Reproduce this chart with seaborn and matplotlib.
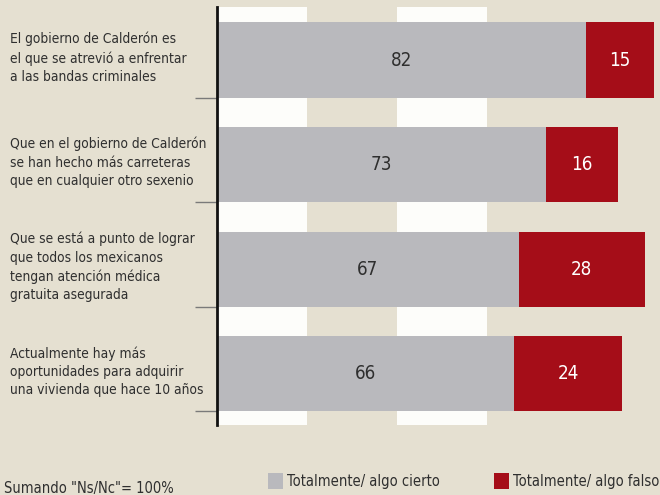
import numpy as np
import pandas as pd
import matplotlib
matplotlib.use('Agg')
import matplotlib.pyplot as plt
from matplotlib.patches import Patch
import seaborn as sns

statements = [
    'El gobierno de Calderón es\nel que se atrevió a enfrentar\na las bandas criminales',
    'Que en el gobierno de Calderón\nse han hecho más carreteras\nque en cualquier otro sexenio',
    'Que se está a punto de lograr\nque todos los mexicanos\ntengan atención médica\ngratuita asegurada',
    'Actualmente hay más\noportunidades para adquirir\nuna vivienda que hace 10 años',
]
cierto = [82, 73, 67, 66]
falso = [15, 16, 28, 24]
legend_labels = ['Totalmente/ algo cierto', 'Totalmente/ algo falso']
note = 'Sumando "Ns/Nc"= 100%'

BG = '#e5e0d1'
GRAY = '#b9b9bd'
RED = '#a50d18'
TXT = '#2f2f2f'

sns.set_style('white')
plt.rcParams['font.family'] = ['DejaVu Sans']
plt.rcParams['font.stretch'] = 'condensed'

df = pd.DataFrame({'statement': statements, 'cierto': cierto, 'falso': falso})
df['total'] = df['cierto'] + df['falso']

fig = plt.figure(figsize=(6.6, 4.95), dpi=100, facecolor=BG)
ax = fig.add_axes([217 / 660, 1 - 425 / 495, 443 / 660, 418 / 495])
ax.set_facecolor(BG)

# alternating white bands
for lo in (0, 40):
    ax.axvspan(lo, lo + 20, color='#fdfdfa', zorder=0, lw=0)

# stacked: red total underneath, gray on top
sns.barplot(data=df, x='total', y='statement', color=RED, width=0.72,
            saturation=1, linewidth=0, ax=ax, zorder=2)
sns.barplot(data=df, x='cierto', y='statement', color=GRAY, width=0.72,
            saturation=1, linewidth=0, ax=ax, zorder=3)

for i, (c, f) in enumerate(zip(cierto, falso)):
    ax.text(c / 2, i, str(c), ha='center', va='center', fontsize=13.5,
            color=TXT, zorder=4)
    ax.text(c + f / 2, i, str(f), ha='center', va='center', fontsize=13.5,
            color='white', zorder=4)

ax.set_xlim(0, 443 / 4.5)
ax.set_ylim(3.49, -0.507)
ax.set_xlabel('')
ax.set_ylabel('')
ax.set_xticks([])
ax.set_yticks([])
ax.set_yticks([i + 0.36 for i in range(len(statements))], minor=True)
ax.tick_params(axis='y', which='minor', length=16, width=1, color='#7a7a7a',
               direction='out', left=True)
for s in ('top', 'right', 'bottom'):
    ax.spines[s].set_visible(False)
ax.spines['left'].set_color('#111111')
ax.spines['left'].set_linewidth(2)
ax.spines['left'].set_zorder(5)

trans = matplotlib.transforms.blended_transform_factory(fig.transFigure, ax.transData)
for i, s in enumerate(statements):
    ax.text(10 / 660, i - 0.02, s, transform=trans, ha='left', va='center',
            fontsize=9.9, color=TXT, linespacing=1.4)

fig.text(4 / 660, 1 - 489 / 495, note, ha='left', va='center',
         fontsize=10.5, color=TXT)

handles = [Patch(facecolor=GRAY, edgecolor='none'), Patch(facecolor=RED, edgecolor='none')]
fig.legend(handles, legend_labels, loc='center left', ncol=2, frameon=False,
           bbox_to_anchor=(261 / 660, 1 - 481 / 495), borderpad=0,
           handlelength=1.0, handleheight=1.3, handletextpad=0.3,
           columnspacing=3.7, prop={'size': 10.5}, labelcolor=TXT)

fig.savefig('out.png', dpi=100, facecolor=BG)
